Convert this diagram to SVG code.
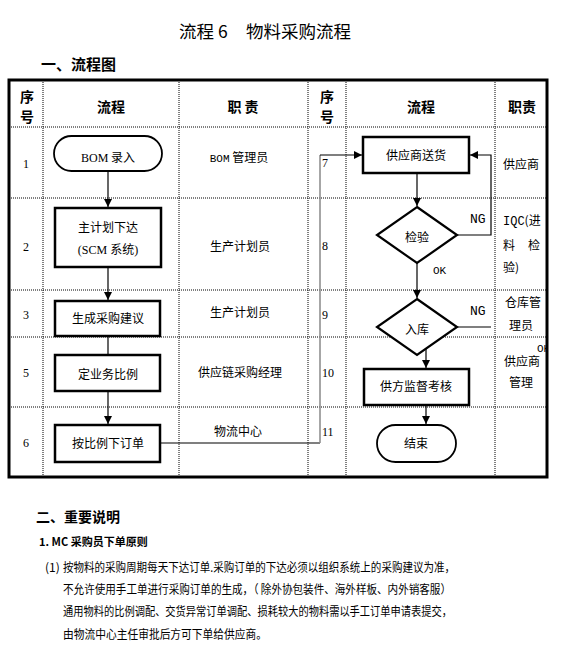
<svg xmlns="http://www.w3.org/2000/svg" width="563" height="645" viewBox="0 0 563 645">
<style>
.t{font-family:"Noto Sans CJK SC","Liberation Sans",sans-serif;font-size:12px;fill:#000}
.s{font-family:"Liberation Serif","Noto Sans CJK SC",serif;font-size:12px;fill:#000}
.m{font-family:"Liberation Mono","Noto Sans CJK SC",monospace;font-size:12px;fill:#000}
.h{font-family:"Noto Sans CJK SC",sans-serif;font-size:14px;font-weight:bold;fill:#000}
.c{text-anchor:middle}
.grid{stroke:#000;stroke-width:1;stroke-dasharray:1 1;fill:none}
.box{fill:#fff;stroke:#000;stroke-width:2.5}
.pill{fill:#fff;stroke:#000;stroke-width:1.8}
.dia{fill:#fff;stroke:#000;stroke-width:2.2}
.ln{fill:none;stroke:#000;stroke-width:1.2}
</style>
<defs>
<marker id="ar" markerUnits="userSpaceOnUse" markerWidth="9" markerHeight="9" refX="8" refY="4" orient="auto"><path d="M0,0 L8,4 L0,8 z" fill="#000"/></marker>
<clipPath id="clipR"><rect x="0" y="0" width="547" height="645"/></clipPath>
</defs>
<rect width="563" height="645" fill="#fff"/>
<g id="title">
<text x="179" y="38" class="t" style="font-size:17.5px">流程 6</text>
<text x="246" y="38" class="t" style="font-size:17.5px">物料采购流程</text>
<text x="41" y="70" class="h" style="font-size:15px">一、流程图</text>
</g>
<g id="table">
<path class="grid" d="M43,80 V477 M179,80 V477 M308,80 V477 M346,80 V477 M495,80 V477 M9,127 H547 M9,198 H547 M9,290 H547 M9,337 H547 M9,407 H547"/>
<rect x="9" y="80" width="538" height="397" fill="none" stroke="#000" stroke-width="3"/>
<text x="27" y="102" class="h c">序</text>
<text x="27" y="122" class="h c">号</text>
<text x="111" y="112" class="h c">流程</text>
<text x="243" y="112" class="h c">职 责</text>
<text x="327" y="102" class="h c">序</text>
<text x="327" y="122" class="h c">号</text>
<text x="421" y="112" class="h c">流程</text>
<text x="522" y="112" class="h c">职责</text>
<text x="26" y="168" class="s c">1</text>
<text x="26" y="251" class="s c">2</text>
<text x="26" y="319" class="s c">3</text>
<text x="26" y="377" class="s c">5</text>
<text x="26" y="447" class="s c">6</text>
<text x="322" y="167" class="s">7</text>
<text x="322" y="250" class="s">8</text>
<text x="322" y="319" class="s">9</text>
<text x="322" y="377" class="s">10</text>
<text x="322" y="436" class="s">11</text>
<text x="239" y="162" class="c"><tspan class="m" style="font-size:11px">BOM</tspan><tspan class="t"> 管理员</tspan></text>
<text x="240" y="251" class="t c">生产计划员</text>
<text x="240" y="317" class="t c">生产计划员</text>
<text x="240" y="377" class="t c">供应链采购经理</text>
<text x="238" y="436" class="t c">物流中心</text>
<text x="503" y="169" class="t">供应商</text>
<text x="503" y="225" class="m">IQC<tspan class="t">(进</tspan></text>
<text x="503" y="250" class="t">料</text>
<text x="528" y="250" class="t">检</text>
<text x="503" y="272" class="t">验)</text>
<text x="505" y="307" class="t">仓库管</text>
<text x="509" y="330" class="t">理员</text>
<text x="504" y="366" class="t">供应商</text>
<text x="509" y="387" class="t">管理</text>
<text x="537" y="352" class="m" style="font-size:11px" clip-path="url(#clipR)">OK</text>
</g>
<g id="connectors">
<path class="ln" d="M108,171 V207" marker-end="url(#ar)"/>
<path class="ln" d="M108,267 V300" marker-end="url(#ar)"/>
<path class="ln" d="M108,337 V355"/>
<path class="ln" d="M108,391 V424" marker-end="url(#ar)"/>
<path class="ln" d="M160,443 H320"/>
<path d="M320,443 V155" fill="none" stroke="#888" stroke-width="1.5"/>
<path class="ln" d="M320,155 H362" marker-end="url(#ar)"/>
<path class="ln" d="M417,173 V206" marker-end="url(#ar)"/>
<path class="ln" d="M417,263 V298" marker-end="url(#ar)"/>
<path class="ln" d="M457,235 H491 V155 H470" marker-end="url(#ar)"/>
<path class="ln" d="M457,327 H491"/>
<path class="ln" d="M426,349 V368" marker-end="url(#ar)"/>
<path class="ln" d="M426,405 V424" marker-end="url(#ar)"/>
<text x="470" y="223" class="m" style="font-size:13px">NG</text>
<text x="433" y="274" class="m" style="font-size:11px">OK</text>
<text x="470" y="315" class="m" style="font-size:13px">NG</text>
</g>
<g id="n1"><rect class="pill" x="54" y="136" width="108" height="35" rx="17.5"/><text x="108" y="162" class="c"><tspan class="s">BOM</tspan><tspan class="t"> 录入</tspan></text></g>
<g id="n2"><rect class="box" x="55" y="208" width="106" height="59"/><text x="108" y="232" class="t c">主计划下达</text><text x="108" y="254" class="s c">(SCM <tspan class="t">系统</tspan>)</text></g>
<g id="n3"><rect class="box" x="55" y="301" width="105" height="35"/><text x="108" y="323" class="t c">生成采购建议</text></g>
<g id="n5"><rect class="box" x="55" y="355" width="105" height="36"/><text x="108" y="379" class="t c">定业务比例</text></g>
<g id="n6"><rect class="box" x="55" y="425" width="105" height="37"/><text x="108" y="448" class="t c">按比例下订单</text></g>
<g id="n7"><rect class="box" x="363" y="137" width="106" height="36"/><text x="416" y="160" class="t c">供应商送货</text></g>
<g id="n8"><polygon class="dia" points="417,207 457,235 417,263 377,235"/><text x="417" y="242" class="t c">检验</text></g>
<g id="n9"><polygon class="dia" points="417,299 457,327 417,355 377,327"/><text x="417" y="334" class="t c">入库</text></g>
<g id="n10"><rect class="box" x="364" y="369" width="105" height="36"/><text x="416" y="391" class="t c">供方监督考核</text></g>
<g id="n11"><rect class="pill" x="377" y="425" width="79" height="37" rx="18.5"/><text x="416" y="448" class="t c">结束</text></g>
<g id="notes">
<text x="36" y="522" class="h">二、重要说明</text>
<text x="39" y="546" class="h" style="font-size:11px">1. MC 采购员下单原则</text>
<text x="45" y="572" class="t">(1)</text>
<text x="63" y="572" class="t" textLength="392" lengthAdjust="spacingAndGlyphs">按物料的采购周期每天下达订单.采购订单的下达必须以组织系统上的采购建议为准，</text>
<text x="63" y="594" class="t" textLength="388" lengthAdjust="spacingAndGlyphs">不允许使用手工单进行采购订单的生成，（ 除外协包装件、海外样板、内外销客服）</text>
<text x="63" y="616" class="t" textLength="389" lengthAdjust="spacingAndGlyphs">通用物料的比例调配、交货异常订单调配、损耗较大的物料需以手工订单申请表提交，</text>
<text x="63" y="639" class="t" textLength="204" lengthAdjust="spacingAndGlyphs">由物流中心主任审批后方可下单给供应商。</text>
</g>
</svg>
